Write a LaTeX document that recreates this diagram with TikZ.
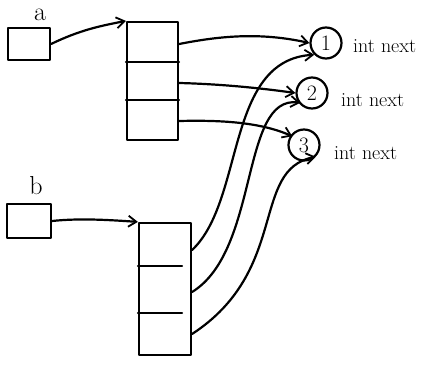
\documentclass[tikz,border=0pt]{standalone}
\usetikzlibrary{arrows.meta}
\begin{document}
\begin{tikzpicture}[x=1pt,y=-1pt,
  ink/.style={line width=2.2pt,line cap=round,line join=round},
  ptr/.style={ink,-{Straight Barb[length=8pt,width=11pt,line width=1.8pt]}},
  cell/.style={ink,draw,minimum width=#1,inner sep=0pt},
  numnode/.style={ink,draw,circle,minimum size=31pt,inner sep=0pt,font=\fontsize{22}{24}\selectfont},
  lbl/.style={font=\fontsize{26}{28}\selectfont,inner sep=0pt},
  note/.style={font=\fontsize{20}{22}\selectfont,anchor=west,inner sep=0pt}]
\useasboundingbox (0,0) rectangle (439,367);

% variable a and its array
\node[lbl] (la) at (40,15) {a};
\node[cell=42pt,minimum height=32pt] (va) at (29,44) {};
\node[cell=51pt,minimum height=118pt] (arrA) at (152.5,81) {};
\draw[ink] (arrA.west |- 0,62) -- (arrA.east |- 0,62);
\draw[ink] (arrA.west |- 0,100) -- (arrA.east |- 0,100);
\coordinate (a1) at (arrA.east |- 0,44);
\coordinate (a2) at (arrA.east |- 0,83);
\coordinate (a3) at (arrA.east |- 0,121);

% variable b and its array
\node[lbl] (lb) at (36,186) {b};
\node[cell=44pt,minimum height=34pt] (vb) at (29,221) {};
\node[cell=52pt,minimum height=132pt] (arrB) at (165,289) {};
\draw[ink] (arrB.west |- 0,266) -- ([xshift=-10pt]arrB.east |- 0,266);
\draw[ink] (arrB.west |- 0,313) -- ([xshift=-10pt]arrB.east |- 0,313);
\coordinate (b1) at (arrB.east |- 0,250);
\coordinate (b2) at (arrB.east |- 0,292);
\coordinate (b3) at (arrB.east |- 0,334);

% list nodes
\node[numnode] (n1) at (326,43) {1};
\node[numnode] (n2) at (312,93) {2};
\node[numnode] (n3) at (304,145) {3};
\node[note] (t1) at (353,46) {int next};
\node[note] (t2) at (341,100) {int next};
\node[note] (t3) at (334,153) {int next};

% references held by the variables
\draw[ptr] (va.east) .. controls (80,30) and (100,26) .. (arrA.north west);
\draw[ptr] (vb.east) .. controls (80,218) and (110,220) .. (arrB.north west);

% references held by array a
\draw[ptr] (a1) .. controls (220,36) and (260,32) .. (n1.west);
\draw[ptr] (a2) .. controls (220,84) and (260,88) .. (n2.west);
\draw[ptr] (a3) .. controls (220,120) and (260,122) .. ([yshift=-3pt]n3.north west);

% references held by array b
\draw[ptr] (b1) .. controls (245,200) and (225,60) .. (n1.south west);
\draw[ptr] (b2) .. controls (260,250) and (240,95) .. ([yshift=2pt]n2.south west);
\draw[ptr] (b3) .. controls (290,270) and (250,170) .. (n3.south east);
\end{tikzpicture}
\end{document}
